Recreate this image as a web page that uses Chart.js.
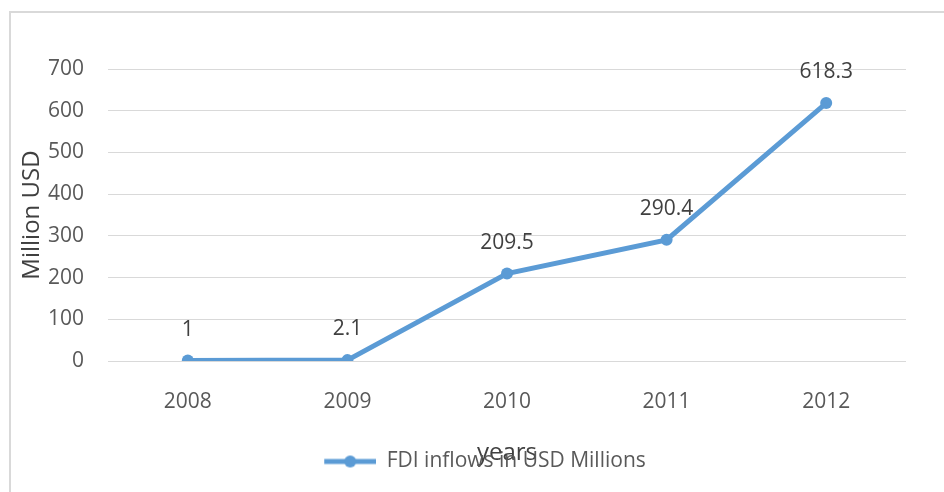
<!DOCTYPE html>
<html>
<head>
<meta charset="utf-8">
<script src="https://cdn.jsdelivr.net/npm/chart.js@4"></script>
<style>
  html, body { margin: 0; padding: 0; background: #fff; }
  #wrap { width: 944px; height: 492px; }
</style>
</head>
<body>
<div id="wrap"><canvas id="fdiChart" width="944" height="492"></canvas></div>
<script>
// data
const years = ['2008', '2009', '2010', '2011', '2012'];
const fdiInflows = [1, 2.1, 209.5, 290.4, 618.3];
const seriesName = 'FDI inflows in USD Millions';
const yTicks = [0, 100, 200, 300, 400, 500, 600, 700];

const lineColor = '#5B9BD5';
const fontFamily = '"Open Sans", "Liberation Sans", sans-serif';

// legend marker: line with a dot, drawn on the right part of a wider image
// (the empty left part nudges the legend to the right like in the original)
const markerW = 106;
function makeLegendMarker() {
    const c = document.createElement('canvas');
    c.width = markerW;
    c.height = 14;
    const g = c.getContext('2d');
    g.strokeStyle = lineColor;
    g.lineWidth = 5;
    g.beginPath();
    g.moveTo(markerW - 52, 7);
    g.lineTo(markerW, 7);
    g.stroke();
    g.fillStyle = lineColor;
    g.beginPath();
    g.arc(markerW - 26, 7, 6, 0, Math.PI * 2);
    g.fill();
    return c;
}

// outer frame
const framePlugin = {
    id: 'frame',
    beforeDraw(chart) {
        const ctx = chart.ctx;
        ctx.save();
        ctx.strokeStyle = '#d9d9d9';
        ctx.lineWidth = 2;
        ctx.strokeRect(10, 12, 1000, 1000);
        ctx.restore();
    }
};

// value labels above each point
const valueLabels = {
    id: 'valueLabels',
    afterDatasetsDraw(chart) {
        const ctx = chart.ctx;
        const meta = chart.getDatasetMeta(0);
        ctx.save();
        ctx.font = '21px ' + fontFamily;
        ctx.fillStyle = '#404040';
        ctx.textAlign = 'center';
        ctx.textBaseline = 'middle';
        meta.data.forEach((pt, i) => {
            ctx.fillText(String(fdiInflows[i]), pt.x, pt.y - 31);
        });
        ctx.restore();
    }
};

const ctx = document.getElementById('fdiChart').getContext('2d');
new Chart(ctx, {
    type: 'line',
    data: {
        labels: years,
        datasets: [{
            label: seriesName,
            data: fdiInflows,
            borderColor: lineColor,
            backgroundColor: lineColor,
            borderWidth: 5,
            pointRadius: 6,
            pointBackgroundColor: lineColor,
            pointBorderWidth: 0,
            pointStyle: 'circle',
            fill: false,
            tension: 0
        }]
    },
    options: {
        responsive: false,
        animation: false,
        layout: { padding: { left: 10, top: 69, right: 38, bottom: 10 } },
        plugins: {
            legend: {
                position: 'bottom',
                labels: {
                    usePointStyle: true,
                    pointStyleWidth: markerW,
                    padding: 8,
                    color: '#595959',
                    font: { family: fontFamily, size: 21 },
                    generateLabels(chart) {
                        return [{
                            text: seriesName,
                            fontColor: '#595959',
                            pointStyle: makeLegendMarker(),
                            datasetIndex: 0,
                            lineWidth: 0,
                            hidden: false
                        }];
                    }
                }
            },
            tooltip: { enabled: false }
        },
        scales: {
            x: {
                offset: true,
                grid: { display: false, drawTicks: false },
                border: { display: false },
                ticks: { color: '#595959', padding: 28, font: { family: fontFamily, size: 21 } },
                title: {
                    display: true,
                    text: 'years',
                    color: '#404040',
                    font: { family: fontFamily, size: 24 },
                    padding: { top: 0, bottom: -25 }
                },
                afterFit(s) { s.height = 82; }
            },
            y: {
                min: 0,
                max: 700,
                afterBuildTicks(s) { s.ticks = yTicks.map(v => ({ value: v })); },
                grid: { color: '#d9d9d9', lineWidth: 1, drawTicks: false },
                border: { display: false },
                ticks: { color: '#595959', padding: 24, font: { family: fontFamily, size: 21 } },
                title: {
                    display: true,
                    text: 'Million USD',
                    color: '#404040',
                    font: { family: fontFamily, size: 24 },
                    padding: { top: 8, bottom: 0 }
                },
                afterFit(s) { s.width = 98; }
            }
        }
    },
    plugins: [framePlugin, valueLabels]
});
</script>
</body>
</html>
